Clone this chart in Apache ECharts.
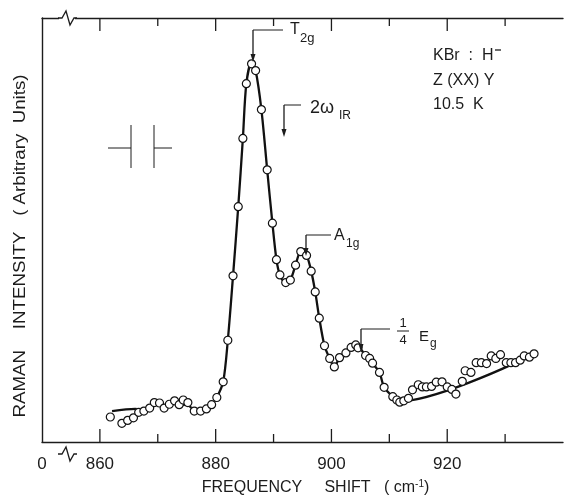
<!DOCTYPE html>
<html>
<head>
<meta charset="utf-8">
<script src="https://cdn.jsdelivr.net/npm/echarts@6/dist/echarts.min.js"></script>
<style>
html, body { margin: 0; background: #fff; }
#main { width: 566px; height: 501px; }
</style>
</head>
<body>
<div id="main"></div>
<script>
// measured points (open circles)
var freq = [861.8, 863.8, 864.8, 865.8, 866.7, 867.6, 868.6, 869.4, 870.3, 871.1,
    872.0, 872.9, 873.7, 874.4, 875.2, 876.3, 877.4, 878.4, 879.3, 880.2,
    881.3, 882.1, 883.0, 883.9, 884.7, 885.3, 886.2, 886.9, 887.9, 888.9,
    889.8, 890.5, 891.1, 892.1, 892.9, 893.8, 894.7, 895.7, 896.5, 897.2,
    897.9, 898.8, 899.7, 900.5, 901.4, 902.5, 903.4, 904.2, 904.6, 905.9,
    906.6, 907.1, 908.3, 909.1, 910.6, 911.3, 911.8, 912.5, 913.3, 914.0,
    915.0, 915.7, 916.4, 917.3, 918.1, 919.1, 920.0, 920.8, 921.5, 922.6,
    923.1, 924.1, 925.0, 925.9, 926.8, 927.6, 928.4, 929.2, 930.2, 931.0,
    931.8, 932.6, 933.3, 934.2, 935.0];
var intensity = [5.9, 4.4, 5.1, 5.7, 7.0, 7.3, 8.0, 9.3, 9.2, 8.0,
    8.9, 9.7, 8.8, 9.9, 9.3, 7.3, 7.3, 7.8, 8.8, 10.5,
    14.2, 24.0, 39.2, 55.5, 71.6, 84.5, 89.2, 87.6, 78.4, 64.2,
    51.6, 43.0, 39.4, 37.6, 38.2, 41.7, 44.9, 44.0, 40.3, 35.4,
    29.2, 22.7, 19.7, 17.7, 19.9, 21.0, 22.3, 22.9, 22.2, 20.4,
    19.7, 18.6, 16.4, 12.9, 10.7, 9.9, 9.4, 9.7, 10.3, 12.3,
    13.5, 13.0, 13.0, 13.1, 14.1, 14.2, 13.0, 12.4, 11.3, 14.3,
    16.8, 16.4, 18.7, 18.7, 18.5, 20.3, 19.7, 20.6, 18.7, 18.7,
    18.7, 19.3, 20.3, 20.0, 20.8];

// hand-drawn curve through the points
var fitFreq = [862.1, 866.1, 867.5, 869.4, 870.3, 871.1, 872.0, 872.9, 873.7, 875.2,
    876.3, 877.5, 878.4, 879.3, 880.2, 881.3, 882.1, 883.0, 883.9, 884.7,
    885.3, 886.2, 886.9, 887.9, 888.9, 889.8, 890.5, 891.1, 892.1, 892.9,
    893.8, 894.7, 895.7, 896.5, 897.2, 897.9, 898.8, 899.7, 900.5, 901.4,
    902.5, 903.4, 904.3, 905.9, 906.6, 907.1, 908.3, 909.1, 910.6, 911.8,
    931.2];
var fitIntensity = [7.3, 7.8, 7.6, 8.6, 8.9, 8.2, 8.7, 9.3, 8.8, 8.7,
    7.6, 7.6, 8.0, 8.8, 10.5, 14.2, 24.0, 39.2, 55.5, 71.6,
    84.5, 89.5, 87.6, 78.4, 64.2, 51.6, 43.0, 39.4, 37.6, 38.2,
    41.7, 44.9, 44.0, 40.3, 35.4, 29.2, 22.7, 19.7, 17.7, 19.9,
    21.0, 22.3, 22.8, 20.4, 19.7, 18.6, 16.4, 12.9, 10.7, 9.6,
    18.3];

var majorTicks = [860, 880, 900, 920];
var minorTicks = [870, 890, 910, 930];
var tickLabels = { 850: '0', 860: '860', 880: '880', 900: '900', 920: '920' };

var FONT = '"Liberation Sans", Arial, sans-serif';
var INK = '#1c1c1c';

var myChart = echarts.init(document.getElementById('main'));

var points = [];
for (var i = 0; i < freq.length; i++) points.push([freq[i], intensity[i]]);
var fit = [];
for (var j = 0; j < fitFreq.length; j++) fit.push([fitFreq[j], fitIntensity[j]]);
var ticks = [];
majorTicks.forEach(function (v) { ticks.push([v, 1]); });
minorTicks.forEach(function (v) { ticks.push([v, 0]); });

var ctx = document.createElement('canvas').getContext('2d');

function txt(x, y, s, size, align) {
    return {
        type: 'text', x: x, y: y, z: 100,
        style: { text: s, fill: INK, font: size + 'px ' + FONT, textAlign: align || 'left', textVerticalAlign: 'middle' }
    };
}
// rotated y title, stretched to the length it has in the original lettering
function vText(s, cy, len, size) {
    ctx.font = size + 'px ' + FONT;
    var w = ctx.measureText(s).width;
    return {
        type: 'text', x: 20, y: cy, rotation: Math.PI / 2, scaleX: len / w, scaleY: 1, z: 100,
        style: { text: s, fill: INK, font: size + 'px ' + FONT, textAlign: 'center', textVerticalAlign: 'middle' }
    };
}
function seg(x1, y1, x2, y2, w) {
    return {
        type: 'line', z: 100,
        shape: { x1: x1, y1: y1, x2: x2, y2: y2 },
        style: { stroke: INK, lineWidth: w || 1.2 }
    };
}
function arrow(x, yTop, yTip, xEnd) {
    return [
        seg(x, yTop, xEnd, yTop, 1),
        seg(x, yTop, x, yTip - 6, 1.3),
        { type: 'polygon', z: 100, shape: { points: [[x - 2.5, yTip - 8], [x + 2.5, yTip - 8], [x, yTip]] }, style: { fill: INK } }
    ];
}

var graphics = [
    // axis breaks
    { type: 'rect', z: 99, shape: { x: 59, y: 449, width: 16, height: 10 }, style: { fill: '#fff' } },
    { type: 'polyline', z: 100, shape: { points: [[58, 454], [62, 454], [66, 447], [70, 461], [74, 454], [77, 454]] }, style: { stroke: INK, lineWidth: 1.3, fill: null } },
    { type: 'rect', z: 99, shape: { x: 59, y: 13, width: 16, height: 10 }, style: { fill: '#fff' } },
    { type: 'polyline', z: 100, shape: { points: [[58, 18], [62, 18], [66, 11], [70, 25], [74, 18], [77, 18]] }, style: { stroke: INK, lineWidth: 1.3, fill: null } },
    // resolution marker
    seg(108, 148, 131, 148, 1), seg(131, 125, 131, 168, 1),
    seg(154, 125, 154, 168, 1), seg(154, 148, 172, 148, 1),
    // sample text
    txt(433, 56, 'KBr  :  H', 16), seg(495, 50, 501, 50, 1.3),
    txt(433, 81, 'Z (XX) Y', 16),
    txt(433, 105, '10.5  K', 16),
    // peak labels
    txt(290, 30, 'T', 16), txt(300, 38, '2g', 13),
    txt(310, 108, '2\u03c9', 18), txt(339, 116, 'IR', 12),
    txt(334, 236, 'A', 16), txt(346, 244, '1g', 12),
    txt(403, 323, '1', 13, 'center'), seg(397, 331, 409, 331, 1), txt(403, 340, '4', 13, 'center'),
    txt(419, 337, 'E', 15), txt(430, 344, 'g', 12),
    // y title
    vText('RAMAN    INTENSITY   ( Arbitrary  Units)', 246, 343, 17)
];
graphics = graphics.concat(arrow(253, 30, 62, 283));
graphics = graphics.concat(arrow(284, 105, 137, 301));
graphics = graphics.concat(arrow(306, 235, 256, 331));
graphics = graphics.concat(arrow(361, 329, 352, 390));

var option = {
    animation: false,
    backgroundColor: '#fff',
    grid: { left: 42, right: 0, top: 18, bottom: 47 },
    xAxis: [{
        type: 'value', min: 850, max: 940, interval: 10, position: 'bottom',
        axisLine: { show: true, lineStyle: { color: INK, width: 1.4 } },
        axisTick: { show: false },
        splitLine: { show: false },
        axisLabel: {
            margin: 14, color: INK, fontSize: 17, fontFamily: FONT,
            formatter: function (v) { return tickLabels[v] || ''; }
        },
        name: '{n|FREQUENCY     SHIFT   ( cm}{s|-1}{n|)}',
        nameLocation: 'middle', nameGap: 37,
        nameTextStyle: {
            padding: [0, 0, 0, 26],
            rich: {
                n: { fontSize: 16, fontFamily: FONT, color: INK, lineHeight: 18 },
                s: { fontSize: 10, fontFamily: FONT, color: INK, verticalAlign: 'top', lineHeight: 18 }
            }
        }
    }, {
        type: 'value', min: 850, max: 940, interval: 10, position: 'top',
        axisLine: { show: true, onZero: false, lineStyle: { color: INK, width: 1.4 } },
        axisTick: { show: false }, axisLabel: { show: false }, splitLine: { show: false }
    }],
    yAxis: {
        type: 'value', min: 0, max: 100,
        axisLine: { show: true, lineStyle: { color: INK, width: 1.4 } },
        axisTick: { show: false }, axisLabel: { show: false }, splitLine: { show: false }
    },
    graphic: graphics,
    series: [{
        name: 'ticks',
        type: 'custom',
        silent: true,
        data: ticks,
        renderItem: function (params, api) {
            var v = api.value(0);
            var len = api.value(1) ? 13 : 8;
            var b = api.coord([v, 0]);
            var t = api.coord([v, 100]);
            return {
                type: 'group',
                children: [
                    { type: 'line', shape: { x1: b[0], y1: b[1], x2: b[0], y2: b[1] - len }, style: { stroke: INK, lineWidth: 1.3 } },
                    { type: 'line', shape: { x1: t[0], y1: t[1], x2: t[0], y2: t[1] + len }, style: { stroke: INK, lineWidth: 1.3 } }
                ]
            };
        }
    }, {
        name: 'fit',
        type: 'line',
        data: fit,
        smooth: 0.3,
        showSymbol: false,
        silent: true,
        lineStyle: { color: '#111', width: 2.3 },
        z: 3
    }, {
        name: 'data',
        type: 'scatter',
        data: points,
        symbol: 'circle',
        symbolSize: 8,
        silent: true,
        itemStyle: { color: '#fff', borderColor: '#111', borderWidth: 1.2, opacity: 1 },
        z: 4
    }]
};
myChart.setOption(option);
</script>
</body>
</html>
